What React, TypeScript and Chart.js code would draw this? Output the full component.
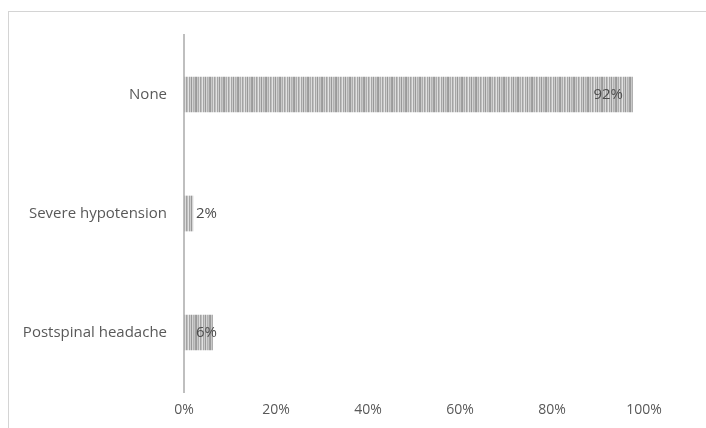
import React, { useEffect, useRef } from "react";
import { Chart, registerables } from "chart.js";

Chart.register(...registerables);

const categories = ["None", "Severe hypotension", "Postspinal headache"];
// bar lengths as drawn in the picture (percent of the axis)
const barValues = [97.6, 2, 6.3];
// data label texts as printed on the picture
const valueLabels = ["92%", "2%", "6%"];
const xTicks = [0, 20, 40, 60, 80, 100];

const FONT = "'Open Sans', 'Noto Sans', sans-serif";
const TEXT = "#595959";

function makeStripePattern(): CanvasPattern | string {
  const c = document.createElement("canvas");
  const shades = ["#9a9a9a", "#c9c9c9", "#adadad", "#dcdcdc", "#a2a2a2", "#bfbfbf", "#e2e2e2", "#a6a6a6", "#cdcdcd", "#989898", "#d5d5d5", "#b2b2b2", "#c4c4c4", "#a0a0a0"];
  c.width = shades.length;
  c.height = 4;
  const g = c.getContext("2d");
  if (!g) return "#b0b0b0";
  shades.forEach((s, i) => {
    g.fillStyle = s;
    g.fillRect(i, 0, 1, 4);
  });
  const p = g.createPattern(c, "repeat");
  return p || "#b0b0b0";
}

const labelPlugin = {
  id: "valueLabels",
  afterDatasetsDraw(chart: any) {
    const ctx = chart.ctx;
    const meta = chart.getDatasetMeta(0);
    ctx.save();
    ctx.font = `15px ${FONT}`;
    ctx.fillStyle = "#4d4d4d";
    ctx.textBaseline = "middle";
    meta.data.forEach((bar: any, i: number) => {
      const text = valueLabels[i];
      const w = bar.x - bar.base;
      if (w > 60) {
        ctx.textAlign = "right";
        ctx.fillText(text, bar.x - 10, bar.y);
      } else {
        ctx.textAlign = "left";
        ctx.fillText(text, bar.base + 12, bar.y);
      }
    });
    ctx.restore();
  },
};

export default function App() {
  const ref = useRef<HTMLCanvasElement | null>(null);

  useEffect(() => {
    document.body.style.margin = "0";
    if (!ref.current) return;
    const chart = new Chart(ref.current, {
      type: "bar",
      data: {
        labels: categories,
        datasets: [
          {
            data: barValues,
            backgroundColor: makeStripePattern() as any,
            borderWidth: 0,
            categoryPercentage: 0.6,
            barPercentage: 0.5,
          },
        ],
      },
      options: {
        indexAxis: "y",
        animation: false,
        responsive: false,
        maintainAspectRatio: false,
        layout: { padding: { top: 35, right: 62, bottom: 0, left: 0 } },
        plugins: { legend: { display: false }, tooltip: { enabled: false } },
        scales: {
          x: {
            min: 0,
            max: 100,
            afterBuildTicks: (scale: any) => {
              scale.ticks = xTicks.map((v) => ({ value: v }));
            },
            afterFit: (scale: any) => {
              scale.height = 36;
            },
            grid: { display: false, drawTicks: false },
            border: { display: false },
            ticks: {
              padding: 10,
              color: TEXT,
              font: { family: FONT, size: 14 },
              callback: (v: any) => `${v}%`,
            },
          },
          y: {
            afterFit: (scale: any) => {
              scale.width = 184;
            },
            grid: { display: false, drawTicks: false },
            border: { display: true, color: "#bfbfbf", width: 2 },
            ticks: {
              padding: 17,
              color: TEXT,
              font: { family: FONT, size: 15 },
            },
          },
        },
      },
      plugins: [labelPlugin],
    });
    return () => chart.destroy();
  }, []);

  return (
    <div style={{ position: "relative", width: 706, height: 428, background: "#fff" }}>
      <div
        style={{
          position: "absolute",
          left: 8,
          top: 11,
          width: 698,
          height: 417,
          borderTop: "1px solid #d4d4d4",
          borderLeft: "1px solid #d4d4d4",
          boxSizing: "border-box",
        }}
      />
      <canvas ref={ref} width={706} height={428} style={{ position: "absolute", left: 0, top: 0 }} />
    </div>
  );
}
